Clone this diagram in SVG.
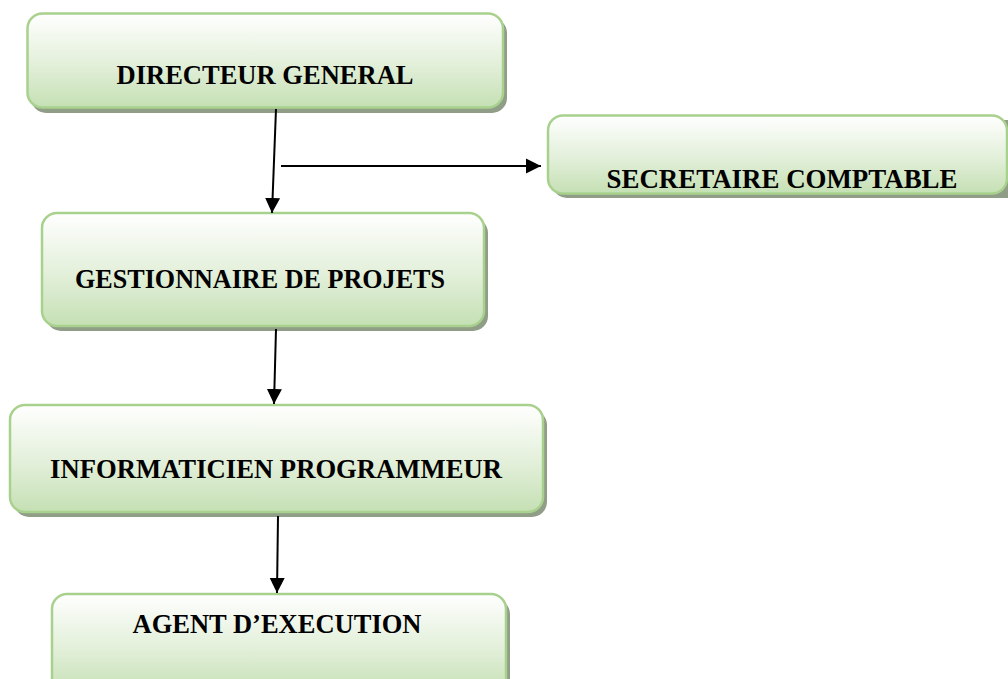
<svg xmlns="http://www.w3.org/2000/svg" width="1008" height="679" viewBox="0 0 1008 679">
  <defs>
    <linearGradient id="g" x1="0" y1="0" x2="0" y2="1">
      <stop offset="0" stop-color="#ffffff"/>
      <stop offset="0.55" stop-color="#e2efd9"/>
      <stop offset="1" stop-color="#c5e0b4"/>
    </linearGradient>
    <marker id="ah" markerWidth="16" markerHeight="16" refX="15" refY="8" orient="auto" markerUnits="userSpaceOnUse">
      <path d="M0,0.5 L15,8 L0,15.5 Z" fill="#000"/>
    </marker>
    <style>
      .shadow { fill: #909d87; }
      .box { fill: url(#g); stroke: #a9d18e; stroke-width: 2.5; }
      .lbl { font-family: "Liberation Serif", "Times New Roman", serif; font-weight: bold; font-size: 26.5px; fill: #000; text-anchor: middle; }
      .conn { stroke: #000; stroke-width: 2; fill: none; }
    </style>
  </defs>
  <rect width="1008" height="679" fill="#fff"/>
  <g id="directeur">
    <rect class="shadow" x="31" y="18" width="476" height="95" rx="15"/>
    <rect class="box" x="27.5" y="13.5" width="475.5" height="94" rx="15"/>
    <text class="lbl" x="265" y="84" textLength="297" lengthAdjust="spacingAndGlyphs">DIRECTEUR GENERAL</text>
  </g>
  <g id="secretaire">
    <rect class="shadow" x="552" y="120" width="470" height="78" rx="15"/>
    <rect class="box" x="548" y="115.5" width="459" height="78" rx="15"/>
    <text class="lbl" x="782" y="188" textLength="351" lengthAdjust="spacingAndGlyphs">SECRETAIRE COMPTABLE</text>
  </g>
  <g id="gestionnaire">
    <rect class="shadow" x="46" y="218" width="442" height="113" rx="15"/>
    <rect class="box" x="42" y="213" width="442" height="113" rx="15"/>
    <text class="lbl" x="260" y="288" textLength="370" lengthAdjust="spacingAndGlyphs">GESTIONNAIRE DE PROJETS</text>
  </g>
  <g id="informaticien">
    <rect class="shadow" x="14" y="410" width="533" height="107" rx="15"/>
    <rect class="box" x="10" y="405" width="533" height="107" rx="15"/>
    <text class="lbl" x="276" y="478" textLength="452" lengthAdjust="spacingAndGlyphs">INFORMATICIEN PROGRAMMEUR</text>
  </g>
  <g id="agent">
    <rect class="shadow" x="56" y="599" width="454" height="100" rx="15"/>
    <rect class="box" x="52" y="594" width="454" height="100" rx="15"/>
    <text class="lbl" x="277" y="633" textLength="289" lengthAdjust="spacingAndGlyphs">AGENT D’EXECUTION</text>
  </g>
  <g id="connectors">
    <line class="conn" x1="276" y1="109" x2="272" y2="213" marker-end="url(#ah)"/>
    <line class="conn" x1="281" y1="166" x2="541" y2="166" marker-end="url(#ah)"/>
    <line class="conn" x1="276" y1="329" x2="274" y2="404" marker-end="url(#ah)"/>
    <line class="conn" x1="278" y1="516" x2="277" y2="593" marker-end="url(#ah)"/>
  </g>
</svg>
